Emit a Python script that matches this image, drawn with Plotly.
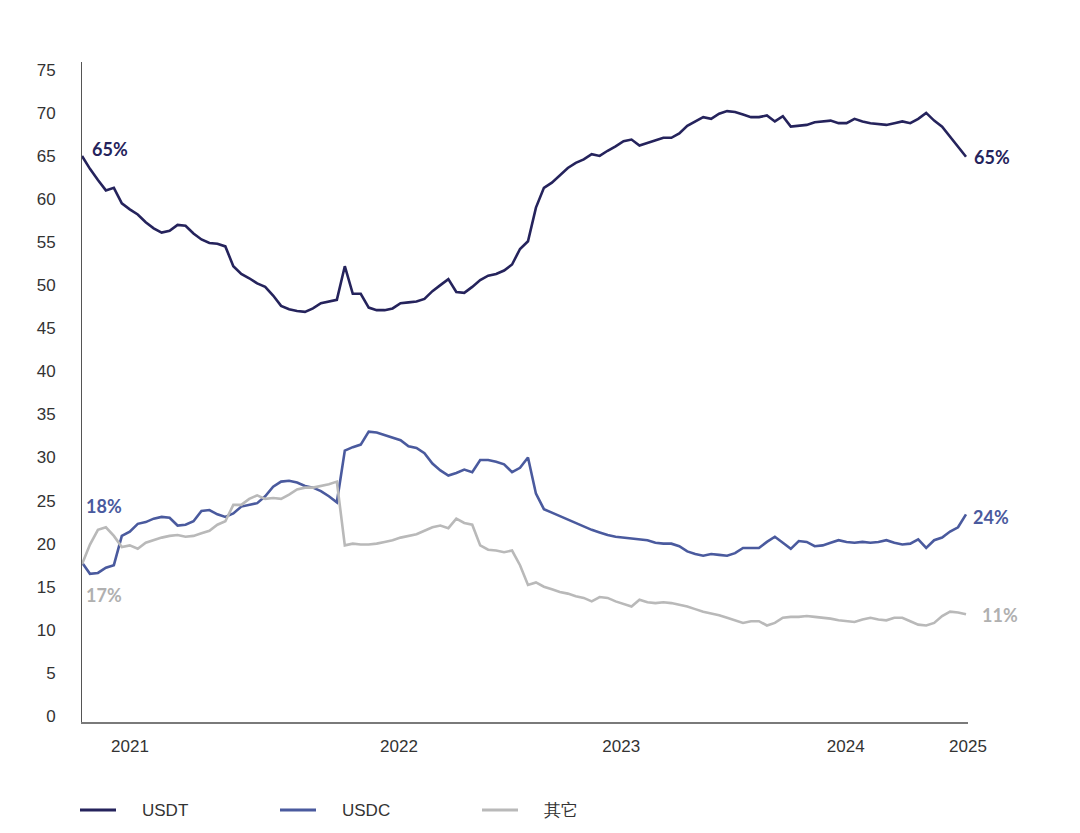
import pandas as pd
import plotly.graph_objects as go

# ---- data (share of stablecoin market, %) ----
start_date = "2020-11-01"
n_points = 112
dates = pd.date_range(start=start_date, periods=n_points, freq="14D")

usdt = [65.0, 63.5, 62.2, 61.0, 61.3, 59.5, 58.8, 58.2, 57.3, 56.6,
        56.1, 56.3, 57.0, 56.9, 56.0, 55.3, 54.9, 54.8, 54.5, 52.2,
        51.3, 50.8, 50.2, 49.8, 48.8, 47.6, 47.2, 47.0, 46.9, 47.3,
        47.9, 48.1, 48.3, 52.2, 49.0, 49.0, 47.4, 47.1, 47.1, 47.3,
        47.9, 48.0, 48.1, 48.4, 49.3, 50.0, 50.7, 49.2, 49.1, 49.8,
        50.6, 51.1, 51.3, 51.7, 52.4, 54.2, 55.1, 59.0, 61.3, 61.9,
        62.8, 63.6, 64.2, 64.6, 65.2, 65.0, 65.6, 66.1, 66.7, 66.9,
        66.2, 66.5, 66.8, 67.1, 67.1, 67.6, 68.5, 69.0, 69.5, 69.3,
        69.9, 70.2, 70.1, 69.8, 69.5, 69.5, 69.7, 69.0, 69.6, 68.4,
        68.5, 68.6, 68.9, 69.0, 69.1, 68.8, 68.8, 69.3, 69.0, 68.8,
        68.7, 68.6, 68.8, 69.0, 68.8, 69.3, 70.0, 69.1, 68.4, 67.2,
        66.0, 64.9]

usdc = [17.8, 16.5, 16.6, 17.2, 17.5, 20.9, 21.4, 22.3, 22.5, 22.9,
        23.1, 23.0, 22.1, 22.2, 22.6, 23.8, 23.9, 23.4, 23.1, 23.5,
        24.3, 24.5, 24.7, 25.5, 26.6, 27.2, 27.3, 27.1, 26.7, 26.5,
        26.1, 25.5, 24.8, 30.8, 31.2, 31.5, 33.0, 32.9, 32.6, 32.3,
        32.0, 31.3, 31.1, 30.5, 29.3, 28.5, 27.9, 28.2, 28.6, 28.3,
        29.7, 29.7, 29.5, 29.2, 28.3, 28.8, 30.0, 25.8, 24.0, 23.6,
        23.2, 22.8, 22.4, 22.0, 21.6, 21.3, 21.0, 20.8, 20.7, 20.6,
        20.5, 20.4, 20.1, 20.0, 20.0, 19.7, 19.1, 18.8, 18.6, 18.8,
        18.7, 18.6, 18.9, 19.5, 19.5, 19.5, 20.2, 20.8, 20.1, 19.4,
        20.3, 20.2, 19.7, 19.8, 20.1, 20.4, 20.2, 20.1, 20.2, 20.1,
        20.2, 20.4, 20.1, 19.9, 20.0, 20.5, 19.5, 20.4, 20.7, 21.4,
        21.9, 23.4]

others = [17.6, 19.9, 21.6, 21.9, 20.9, 19.6, 19.8, 19.4, 20.1, 20.4,
          20.7, 20.9, 21.0, 20.8, 20.9, 21.2, 21.5, 22.2, 22.6, 24.5,
          24.5, 25.2, 25.6, 25.2, 25.3, 25.2, 25.7, 26.3, 26.5, 26.5,
          26.7, 26.9, 27.2, 19.8, 20.0, 19.9, 19.9, 20.0, 20.2, 20.4,
          20.7, 20.9, 21.1, 21.5, 21.9, 22.1, 21.8, 22.9, 22.4, 22.2,
          19.8, 19.3, 19.2, 19.0, 19.2, 17.5, 15.2, 15.5, 15.0, 14.7,
          14.4, 14.2, 13.9, 13.7, 13.3, 13.8, 13.7, 13.3, 13.0, 12.7,
          13.5, 13.2, 13.1, 13.2, 13.1, 12.9, 12.7, 12.4, 12.1, 11.9,
          11.7, 11.4, 11.1, 10.8, 11.0, 11.0, 10.5, 10.8, 11.4, 11.5,
          11.5, 11.6, 11.5, 11.4, 11.3, 11.1, 11.0, 10.9, 11.2, 11.4,
          11.2, 11.1, 11.4, 11.4, 11.0, 10.6, 10.5, 10.8, 11.6, 12.1,
          12.0, 11.8]

series_names = ["USDT", "USDC", "其它"]
start_labels = ["65%", "18%", "17%"]
end_labels = ["65%", "24%", "11%"]
year_labels = ["2021", "2022", "2023", "2024", "2025"]
year_tick_steps = [6.03, 39.8, 67.7, 95.9, 111.25]  # positions in sample steps
y_ticks = list(range(0, 80, 5))

# ---- style ----
colors = ["#25235c", "#4a5a9e", "#b9b9b9"]
label_colors = ["#25235c", "#4a5a9e", "#b0b0b0"]
tick_font = dict(family="Liberation Sans, Arial, sans-serif", size=17, color="#333333")
label_font_family = "Lato, Inter, sans-serif"

# page body has an 8px default margin; compensate so the plot lands where intended
OFF = 8
W, H = 1080 - OFF, 833 - OFF
ML, MT = 82 - OFF, 62 - OFF
PW, PH = 886, 660
MR, MB = W - ML - PW, H - MT - PH


def px_x(p):
    return (p - OFF - ML) / PW


def px_y(p):
    return (MT + PH - (p - OFF)) / PH


t0 = pd.Timestamp(start_date)
step = pd.Timedelta(days=14)
tickvals = [t0 + step * s for s in year_tick_steps]
x_end = t0 + step * 111.25

fig = go.Figure()
for name, vals, col in zip(series_names, [usdt, usdc, others], colors):
    fig.add_trace(go.Scatter(x=dates, y=vals, mode="lines", name=name,
                             line=dict(color=col, width=2.6), showlegend=False))

# start / end labels anchored to the series' first and last points
start_shift = [(8, 7), (2, 57), (2, -31)]
end_shift = [(6, 0), (5, -3), (14, -1)]
for vals, txt, col, (dx, dy) in zip([usdt, usdc, others], start_labels, label_colors, start_shift):
    fig.add_annotation(x=dates[0], y=vals[0], text=f"<b>{txt}</b>", showarrow=False,
                       xanchor="left", yanchor="middle", xshift=dx, yshift=dy,
                       font=dict(family=label_font_family, size=18, color=col))
for vals, txt, col, (dx, dy) in zip([usdt, usdc, others], end_labels, label_colors, end_shift):
    fig.add_annotation(x=dates[-1], y=vals[-1], text=f"<b>{txt}</b>", showarrow=False,
                       xanchor="left", yanchor="middle", xshift=dx, yshift=dy,
                       font=dict(family=label_font_family, size=18, color=col))

# manual legend
legend_text_px = [140, 340, 542]
legend_y = px_y(810)
for name, col, tx in zip(series_names, colors, legend_text_px):
    fig.add_shape(type="line", xref="paper", yref="paper",
                  x0=px_x(tx - 60), x1=px_x(tx - 24), y0=legend_y, y1=legend_y,
                  line=dict(color=col, width=3))
    fig.add_annotation(xref="paper", yref="paper", x=px_x(tx), y=legend_y, text=name,
                       showarrow=False, xanchor="left", yanchor="middle",
                       font=dict(family="Liberation Sans, Arial, sans-serif", size=17,
                                 color="#333333"))

fig.update_layout(
    width=W, height=H,
    margin=dict(l=ML, r=MR, t=MT, b=MB, autoexpand=False),
    paper_bgcolor="white", plot_bgcolor="white",
    showlegend=False,
    xaxis=dict(type="date", range=[t0, x_end], tickmode="array", tickvals=tickvals,
               ticktext=year_labels, showgrid=False, zeroline=False,
               showline=True, linecolor="#7a7a7a", linewidth=1.5, automargin=False,
               ticks="", tickfont=tick_font, ticklabelstandoff=8),
    yaxis=dict(range=[-0.7, 75.9], tickmode="array", tickvals=y_ticks,
               showgrid=False, zeroline=False, showline=True, linecolor="#555555",
               linewidth=1, ticks="", tickfont=tick_font, ticklabelstandoff=22,
               automargin=False),
)

fig.write_html("out.html")
